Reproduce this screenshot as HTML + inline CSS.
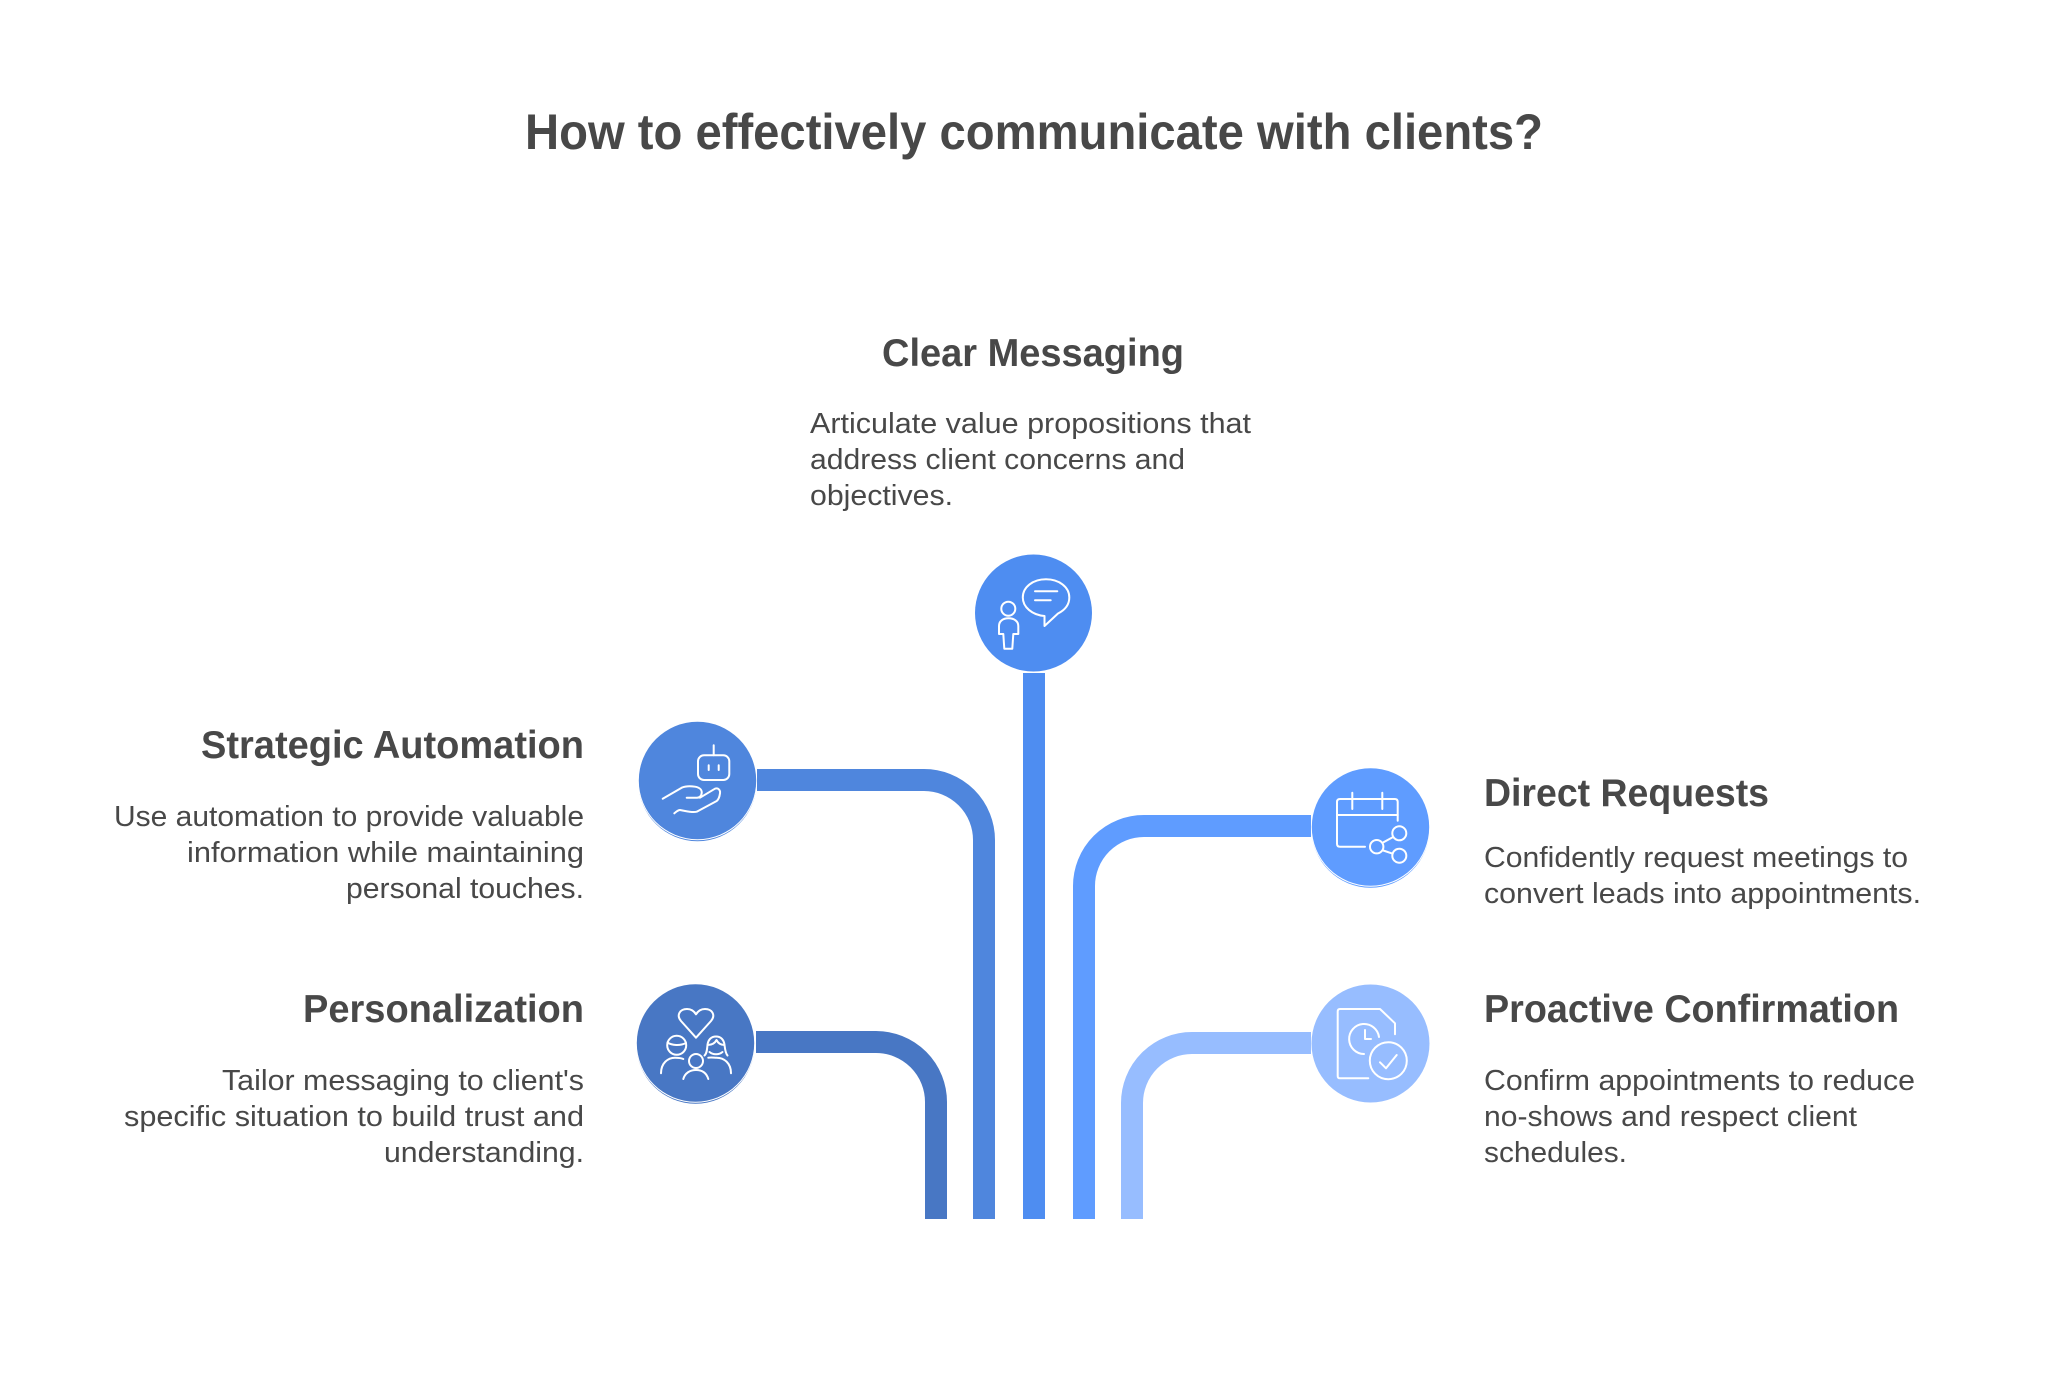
<!DOCTYPE html>
<html lang="en">
<head>
<meta charset="utf-8">
<title>How to effectively communicate with clients?</title>
<style>
html,body{margin:0;padding:0;background:#fff;width:2068px;height:1384px;overflow:hidden}
svg{display:block}
text{font-family:"Liberation Sans",Arial,sans-serif;fill:#484848}
.t{font-size:50px;font-weight:700}
.h{font-size:39px;font-weight:700}
.b{font-size:28.5px;font-weight:400}
.i{fill:none;stroke:#fff;stroke-width:2;stroke-linecap:round;stroke-linejoin:round}
.c{fill:none;stroke-width:22}
</style>
</head>
<body>
<svg xmlns="http://www.w3.org/2000/svg" width="2068" height="1384" viewBox="0 0 2068 1384">
<rect width="2068" height="1384" fill="#fff"/>

<text class="t" x="525" y="149" textLength="1018" lengthAdjust="spacingAndGlyphs">How to effectively communicate with clients?</text>

<!-- connectors -->
<path class="c" stroke="#4877C4" d="M756 1042H876A60 60 0 0 1 936 1102V1219"/>
<path class="c" stroke="#4F86DD" d="M757 780H924A60 60 0 0 1 984 840V1219"/>
<rect x="1023" y="673" width="22" height="546" fill="#4E8DF1"/>
<path class="c" stroke="#5F9CFF" d="M1311 826H1144A60 60 0 0 0 1084 886V1219"/>
<path class="c" stroke="#97BDFF" d="M1311 1043H1192A60 60 0 0 0 1132 1103V1219"/>

<!-- Clear Messaging -->
<circle cx="1033.5" cy="613" r="58.5" fill="#4E8DF1"/>
<g class="i">
<path d="M1044.5 616V626L1058 613.5C1065 610 1069.3 604.5 1069.3 597.5C1069.3 587 1059 579.3 1046 579.3C1033 579.3 1022.8 587 1022.8 597.5C1022.8 607 1032 615 1044.5 616Z"/>
<path d="M1035 591.3H1057.3M1035 600.3H1050.7"/>
<circle cx="1008.3" cy="608.7" r="7"/>
<path d="M1003.3 634H999V626C999 621 1003 618.3 1008.5 618.3C1014 618.3 1018.3 621 1018.3 626V634H1013.3L1012.3 648.7H1004.3Z"/>
</g>

<!-- Strategic Automation -->
<circle cx="697.5" cy="782.2" r="59" fill="#4F86DD"/>
<circle cx="697.5" cy="780.8" r="59.5" fill="#fff"/>
<circle cx="697.5" cy="780.5" r="58.7" fill="#4F86DD"/>
<g class="i">
<rect x="698" y="755.3" width="31.3" height="24.7" rx="6"/>
<path d="M713.7 745.3V755.3M708.7 765.3V770M718.7 765.3V770"/>
<path d="M662.7 798.7L681.7 787.7C686 785.8 691 786 695 786.7C700 787.5 702 790 701.7 793C701.4 796 700 797.7 697 797.7H686.7"/>
<path d="M700 797.7L715 788.7C718 787.5 720.5 790 720 793.3C719.5 797 718.5 799.5 716.7 801L696.7 811.7C692 813 686 811 680 810C678 810 676 812 674.3 813.3"/>
</g>

<!-- Personalization -->
<circle cx="695.5" cy="1044.7" r="59" fill="#4877C4"/>
<circle cx="695.5" cy="1043.3" r="59.5" fill="#fff"/>
<circle cx="695.5" cy="1043" r="58.7" fill="#4877C4"/>
<g class="i">
<path d="M696 1037.7L681 1021C676 1015 680 1009 687 1009C691 1009 694 1011 696 1014.3C698 1011 701 1009 705 1009C712 1009 716 1015 711 1021Z"/>
<circle cx="676.7" cy="1045.3" r="9.5"/>
<path d="M667.5 1042.5C672 1045.5 680 1046 686 1043"/>
<path d="M661 1073.3C661 1063 668 1057.7 675 1057.7C678 1057.7 681 1058 683.3 1059"/>
<circle cx="696" cy="1061" r="7"/>
<path d="M683.3 1079C685 1073 690 1070 696 1070C702 1070 706.5 1073 708.3 1079"/>
<path d="M704.5 1055.5C707 1053.5 707 1049 707.5 1045C708 1040 711 1036.5 716 1036.5C721 1036.5 724 1040 724.5 1045C725 1049 725.5 1053.5 727.5 1055.5"/>
<path d="M707.5 1045C712 1045 715 1043 716.5 1040C718 1043 721 1045 724.5 1045M709.5 1052C713 1055 719 1055 722.5 1052"/>
<path d="M708.3 1057.7C711 1057.2 714 1057.7 716.5 1057.7C724 1057.7 731 1063 731 1073.3"/>
</g>

<!-- Direct Requests -->
<circle cx="1370.5" cy="828.7" r="59" fill="#5F9CFF"/>
<circle cx="1370.5" cy="827.3" r="59.5" fill="#fff"/>
<circle cx="1370.5" cy="827" r="58.7" fill="#5F9CFF"/>
<g class="i">
<path d="M1397.7 820.7V802Q1397.7 799 1394.7 799H1340Q1337 799 1337 802V843.7Q1337 846.7 1340 846.7H1365"/>
<path d="M1337 815H1397.7M1352.3 792.7V809M1382.3 792.7V809"/>
<circle cx="1376.7" cy="846.7" r="6.7"/>
<circle cx="1399.3" cy="833.3" r="7"/>
<circle cx="1399.3" cy="855.7" r="7"/>
<path d="M1383.5 842.3L1392.7 837.3M1383.3 850.5L1392.7 853.7"/>
</g>

<!-- Proactive Confirmation -->
<circle cx="1370.5" cy="1043.5" r="59" fill="#97BDFF"/>
<g class="i">
<path d="M1368.3 1078.3H1340Q1337.7 1078.3 1337.7 1076V1011.5Q1337.7 1009 1340 1009H1380L1395 1023.3V1034.3"/>
<path d="M1364 1054A15 15 0 1 1 1379 1037"/>
<path d="M1365 1030V1039H1371"/>
<circle cx="1388.3" cy="1060.7" r="18.5"/>
<path d="M1380 1062.3L1386 1068.3L1396.7 1055"/>
</g>

<!-- Clear Messaging text -->
<text class="h" x="882" y="366" textLength="302" lengthAdjust="spacingAndGlyphs">Clear Messaging</text>
<text class="b" x="810" y="433" textLength="441" lengthAdjust="spacingAndGlyphs">Articulate value propositions that</text>
<text class="b" x="810" y="469" textLength="375" lengthAdjust="spacingAndGlyphs">address client concerns and</text>
<text class="b" x="810" y="505" textLength="143" lengthAdjust="spacingAndGlyphs">objectives.</text>

<!-- Strategic Automation text -->
<text class="h" x="201" y="758" textLength="383" lengthAdjust="spacingAndGlyphs">Strategic Automation</text>
<text class="b" x="114" y="826" textLength="470" lengthAdjust="spacingAndGlyphs">Use automation to provide valuable</text>
<text class="b" x="187" y="862" textLength="397" lengthAdjust="spacingAndGlyphs">information while maintaining</text>
<text class="b" x="346" y="898" textLength="238" lengthAdjust="spacingAndGlyphs">personal touches.</text>

<!-- Personalization text -->
<text class="h" x="303" y="1022" textLength="281" lengthAdjust="spacingAndGlyphs">Personalization</text>
<text class="b" x="222" y="1090" textLength="362" lengthAdjust="spacingAndGlyphs">Tailor messaging to client's</text>
<text class="b" x="124" y="1126" textLength="460" lengthAdjust="spacingAndGlyphs">specific situation to build trust and</text>
<text class="b" x="384" y="1162" textLength="200" lengthAdjust="spacingAndGlyphs">understanding.</text>

<!-- Direct Requests text -->
<text class="h" x="1484" y="806" textLength="285" lengthAdjust="spacingAndGlyphs">Direct Requests</text>
<text class="b" x="1484" y="867" textLength="424" lengthAdjust="spacingAndGlyphs">Confidently request meetings to</text>
<text class="b" x="1484" y="903" textLength="437" lengthAdjust="spacingAndGlyphs">convert leads into appointments.</text>

<!-- Proactive Confirmation text -->
<text class="h" x="1484" y="1022" textLength="415" lengthAdjust="spacingAndGlyphs">Proactive Confirmation</text>
<text class="b" x="1484" y="1090" textLength="431" lengthAdjust="spacingAndGlyphs">Confirm appointments to reduce</text>
<text class="b" x="1484" y="1126" textLength="373" lengthAdjust="spacingAndGlyphs">no-shows and respect client</text>
<text class="b" x="1484" y="1162" textLength="143" lengthAdjust="spacingAndGlyphs">schedules.</text>
</svg>
</body>
</html>
